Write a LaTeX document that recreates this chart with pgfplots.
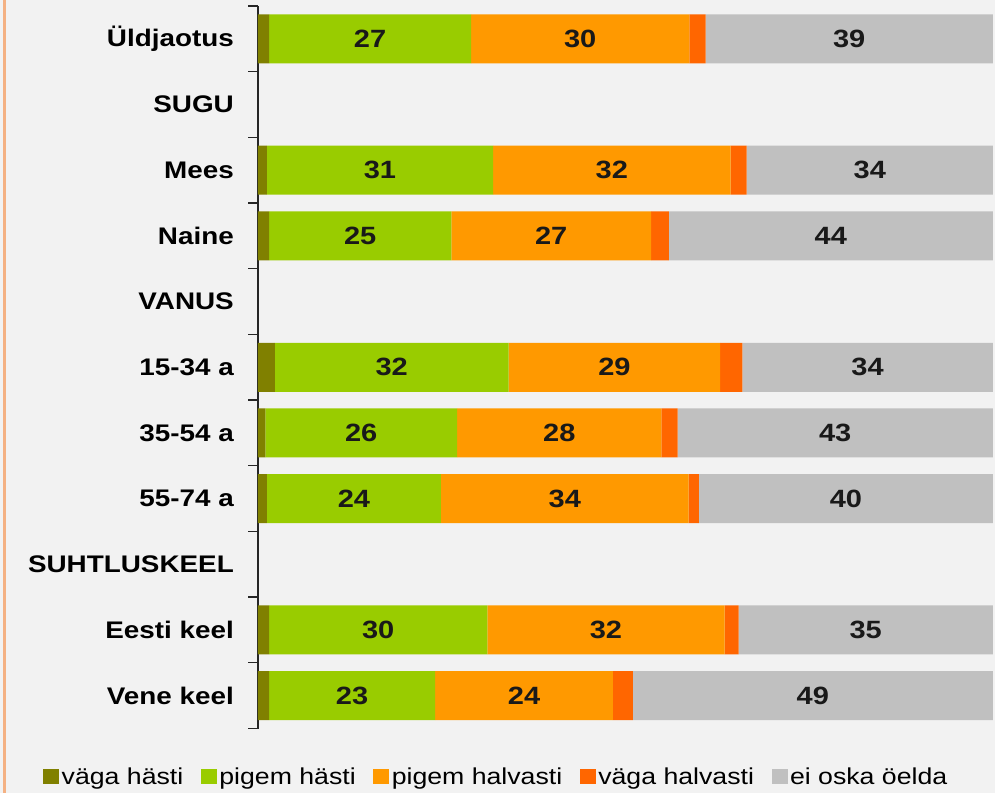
\documentclass[border=0pt]{standalone}
\usepackage{pgfplots}
\pgfplotsset{compat=1.18}
\usepackage{fontspec}
\setmainfont[FakeStretch=1.16]{Liberation Sans}
\definecolor{bg}{HTML}{F2F2F2}
\definecolor{edge}{HTML}{F4B183}
\definecolor{cA}{HTML}{808000}
\definecolor{cB}{HTML}{99CC00}
\definecolor{cC}{HTML}{FF9900}
\definecolor{cD}{HTML}{FF6600}
\definecolor{cE}{HTML}{C0C0C0}
\begin{document}
\begin{tikzpicture}
\fill[bg] (-258pt,-64pt) rectangle (737pt,728.5pt);
\fill[edge] (-254.5pt,-64pt) rectangle (-251.5pt,728.5pt);
\begin{axis}[
  at={(0pt,0pt)}, anchor=south west,
  scale only axis, width=735pt, height=722.5pt,
  xbar stacked, bar width=49pt,
  xmin=0, xmax=100.02, ymin=-0.5, ymax=10.5, y dir=reverse,
  axis x line=none, axis y line=left,
  y axis line style={-, line width=1.3pt, black!85},
  ytick={0,...,10},
  yticklabels={Üldjaotus,SUGU,Mees,Naine,VANUS,15-34 a,35-54 a,55-74 a,SUHTLUSKEEL,Eesti keel,Vene keel},
  major tick length=0pt,
  minor ytick={-0.5,0.5,...,10.5},
  minor tick length=10pt,
  tick align=outside,
  minor tick style={line width=1.3pt, black!85},
  y tick label style={font=\fontsize{24}{28}\selectfont\bfseries, anchor=east, inner sep=0pt, xshift=-24pt, text=black},
  nodes near coords style={font=\fontsize{25}{28}\selectfont\bfseries, text=black!90},
  legend style={at={(-0.2925,-0.0664)}, anchor=west, legend columns=5, draw=none, fill=none, inner sep=0pt,
    font=\fontsize{23}{27}\selectfont,
    nodes={inner xsep=2.5pt},
    /tikz/every even column/.append style={column sep=15pt}},
]
\addplot[fill=cA, draw=none, legend image code/.code={\fill[cA] (0pt,-7.5pt) rectangle (16pt,7.5pt);}]
 coordinates {(1.5,0) (1.2,2) (1.5,3) (2.3,5) (1.0,6) (1.2,7) (1.5,9) (1.5,10)};
\addplot[fill=cB, draw=none, nodes near coords, point meta=explicit symbolic, legend image code/.code={\fill[cB] (0pt,-7.5pt) rectangle (16pt,7.5pt);}]
 coordinates {(27.5,0) [27] (30.8,2) [31] (24.8,3) [25] (31.8,5) [32] (26.1,6) [26] (23.7,7) [24] (29.7,9) [30] (22.6,10) [23]};
\addplot[fill=cC, draw=none, nodes near coords, point meta=explicit symbolic, legend image code/.code={\fill[cC] (0pt,-7.5pt) rectangle (16pt,7.5pt);}]
 coordinates {(29.7,0) [30] (32.3,2) [32] (27.2,3) [27] (28.8,5) [29] (27.8,6) [28] (33.7,7) [34] (32.3,9) [32] (24.2,10) [24]};
\addplot[fill=cD, draw=none, legend image code/.code={\fill[cD] (0pt,-7.5pt) rectangle (16pt,7.5pt);}]
 coordinates {(2.2,0) (2.2,2) (2.4,3) (3.0,5) (2.2,6) (1.4,7) (1.9,9) (2.7,10)};
\addplot[fill=cE, draw=none, nodes near coords, point meta=explicit symbolic, legend image code/.code={\fill[cE] (0pt,-7.5pt) rectangle (16pt,7.5pt);}]
 coordinates {(39.1,0) [39] (33.5,2) [34] (44.1,3) [44] (34.1,5) [34] (42.9,6) [43] (40.0,7) [40] (34.6,9) [35] (49.0,10) [49]};
\legend{väga hästi,pigem hästi,pigem halvasti,väga halvasti,ei oska öelda}
\end{axis}
\end{tikzpicture}
\end{document}
